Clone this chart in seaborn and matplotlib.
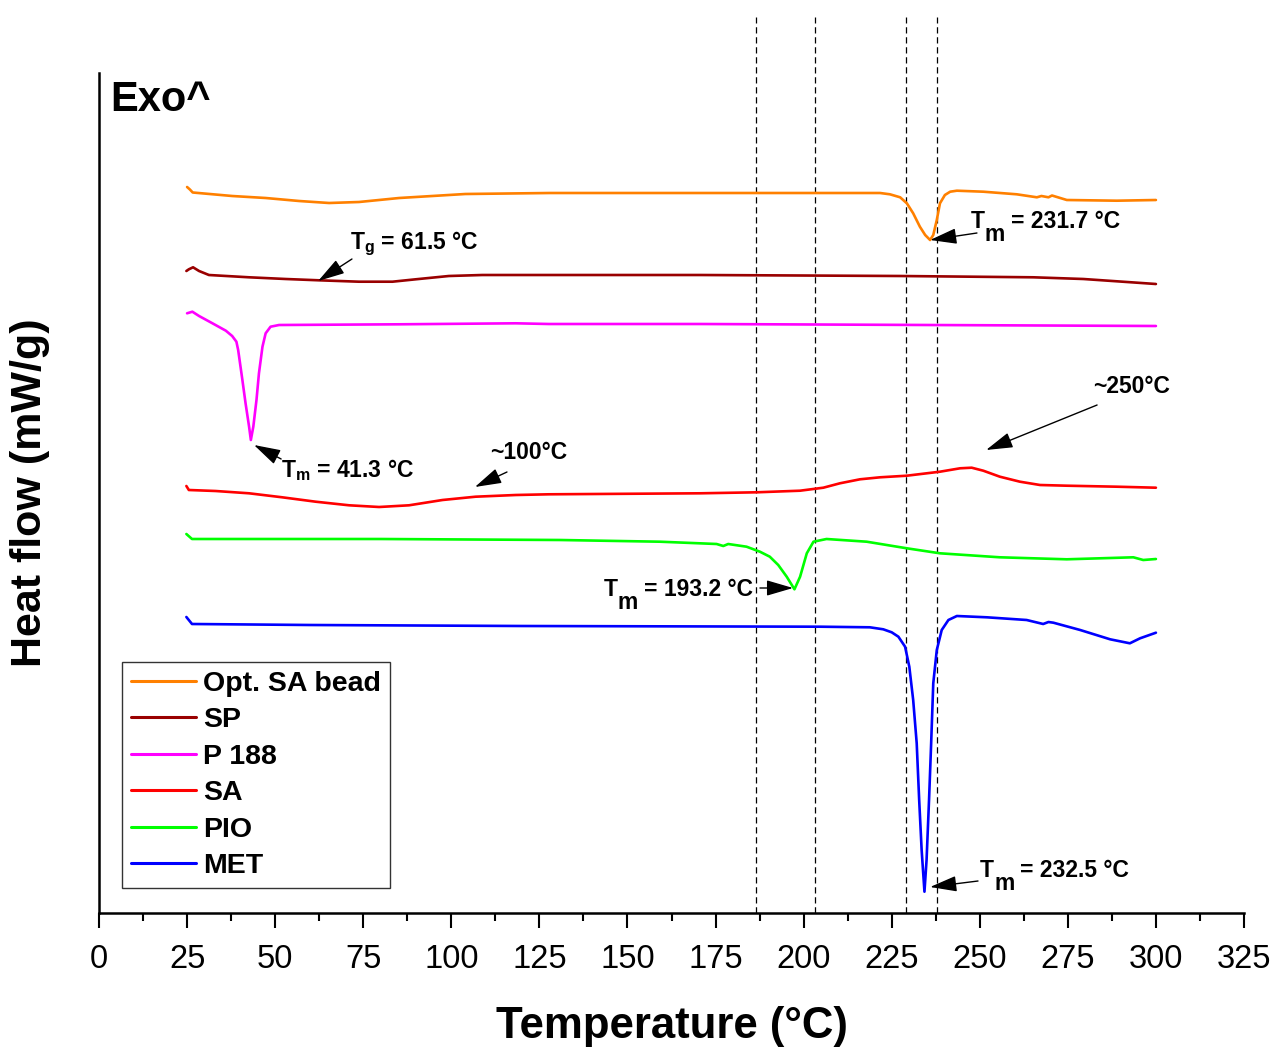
import numpy as np
import pandas as pd
import matplotlib
matplotlib.use('Agg')
import matplotlib.pyplot as plt
from matplotlib.ticker import MultipleLocator
import seaborn as sns

# DSC thermograms (heat flow in arbitrary, stacked units)
opt_T = [25, 25.8, 26.6, 37.8, 47.3, 56.8, 65.3, 73.8, 85.2, 94.6, 104, 128, 170, 221.7, 224.5, 227.4, 229.3,
         231.1, 233, 234.5, 235.9, 236.8, 237.8, 238.7, 240.1, 241.6, 243.5, 251, 260.5, 266.2, 267.5, 269.5,
         270.5, 274.7, 288.9, 300]
opt_hf = [726, 723.5, 720.5, 717, 715, 712, 710, 711, 715, 717, 719, 720, 720, 720, 718.7, 715.7, 709.7,
          699.7, 686.3, 678, 673, 678, 693, 709.7, 718, 721.3, 722.3, 721.3, 718.7, 715.7, 717, 715.7,
          717.5, 713, 712.3, 713]

sp_T = [24.8, 25.5, 26.7, 28.4, 31.2, 42.6, 53, 62.4, 73.8, 83.3, 89.9, 99.3, 108.8, 127.7, 170.6, 227.4,
        265.2, 279.4, 288.9, 300]
sp_hf = [642, 643.7, 645.7, 642, 638, 635.7, 634, 632.7, 631.3, 631.3, 633.7, 637, 638, 638, 638, 637,
         635.7, 634, 631.7, 629]

p188_T = [25, 26.5, 28.4, 32.2, 36, 37.8, 39, 39.5, 39.9, 40.7, 41.6, 42.6, 43.1, 43.8, 44.7, 45.4, 45.9,
          46.4, 47.3, 48.7, 51.1, 85.2, 118.3, 127.7, 170.6, 300]
p188_hf = [599.7, 601.3, 597, 589.7, 582.3, 577, 571.3, 563, 553, 533, 509.7, 486.3, 473, 486.3, 513,
           539.7, 553, 566.3, 579.7, 586.3, 588, 588.7, 589.7, 589, 589, 587]

sa_T = [24.8, 25.5, 33.1, 42.6, 52, 61.5, 71, 79.5, 88, 97.5, 106.9, 118.3, 127.7, 170.6, 186.7, 199, 205.6,
        210.3, 216, 221.7, 229.3, 238.7, 244.4, 247.7, 251, 255.7, 261.4, 267.1, 274.7, 288.9, 300]
sa_hf = [427, 423, 422, 419.7, 415.7, 411.3, 407.7, 406, 407.7, 413, 416.3, 418, 418.7, 419.7, 420.7, 422.3,
         425.3, 429.7, 433.7, 435.7, 437.3, 441.3, 444.7, 445.3, 442.3, 436.3, 431.3, 428, 427.3, 426.3, 425.3]

pio_T = [24.8, 26.4, 80, 130.9, 159.2, 175.3, 177.2, 178.6, 183.8, 187.6, 190.4, 192.8, 195.2, 197.4, 199,
         200.9, 202.8, 206.5, 217.9, 229.3, 238.7, 255.7, 274.7, 293.6, 296.4, 300]
pio_hf = [379, 374, 374, 373, 371.3, 369, 367, 369, 366.3, 361.3, 356.3, 348, 336.3, 323.7, 336.3,
          359.7, 371.3, 374, 371.3, 364.7, 359.7, 355.7, 353.7, 355.7, 353, 354]

met_T = [24.8, 26.4, 60, 120, 180, 204.7, 218.8, 222.6, 225, 226.9, 228.8, 230, 231.1, 232.1, 232.8, 233.5,
         234.3, 234.9, 235.6, 236.2, 236.8, 237.8, 239.2, 241.1, 243.5, 252, 263.3, 268, 269.5, 270.9, 278.5,
         287, 292.6, 295.5, 300]
met_hf = [296, 289, 288, 287, 286.5, 286.3, 285.7, 283.7, 280.7, 276.3, 266.3, 246.3, 213, 169.7, 113, 63,
          21.3, 53, 113, 169.7, 229.7, 263, 283, 293, 297, 295.7, 293, 289, 291, 290.3, 283,
          273.7, 269.7, 274.7, 280.3]

samples = ['Opt. SA bead', 'SP', 'P 188', 'SA', 'PIO', 'MET']
colors = ['#FF8000', '#990000', '#FF00FF', '#FF0000', '#00FF00', '#0000FF']
dashed_T = [186.5, 203.2, 229.1, 237.9]

frames = []
for name, t, hf in zip(samples, [opt_T, sp_T, p188_T, sa_T, pio_T, met_T],
                       [opt_hf, sp_hf, p188_hf, sa_hf, pio_hf, met_hf]):
    frames.append(pd.DataFrame({'T': t, 'HF': hf, 'sample': name}))
df = pd.concat(frames, ignore_index=True)

sns.set_theme(style='ticks')
plt.rcParams['font.family'] = ['Liberation Sans', 'DejaVu Sans']
plt.rcParams['text.color'] = 'black'
plt.rcParams['axes.labelcolor'] = 'black'

fig = plt.figure(figsize=(12.85, 10.48), dpi=100)
ax = fig.add_axes([99 / 1285, 1 - 913 / 1048, 1145 / 1285, 896 / 1048])

sns.lineplot(data=df, x='T', y='HF', hue='sample', hue_order=samples,
             palette=dict(zip(samples, colors)), estimator=None, linewidth=1.9, ax=ax)

for t in dashed_T:
    ax.axvline(t, color='black', lw=0.9, ls=(0, (5, 3)), zorder=1)

ax.set_xlim(0, 325)
ax.set_ylim(0, 896)
ax.xaxis.set_major_locator(MultipleLocator(25))
ax.xaxis.set_minor_locator(MultipleLocator(12.5))
ax.tick_params(axis='x', which='major', direction='out', length=10.5, width=1.5,
               labelsize=23.5, pad=12, color='black', labelcolor='black')
ax.tick_params(axis='x', which='minor', direction='out', length=5.5, width=1.5, color='black')
ax.set_yticks([])
ax.spines['top'].set_visible(False)
ax.spines['right'].set_visible(False)
for s in ['left', 'bottom']:
    ax.spines[s].set_linewidth(1.8)
    ax.spines[s].set_color('black')
ax.spines['left'].set_bounds(0, 840)

ax.set_xlabel('Temperature (°C)', fontsize=31.5, fontweight='bold', labelpad=22)
ax.set_ylabel('Heat flow (mW/g)', fontsize=31, fontweight='bold')
ax.yaxis.set_label_coords(-0.0428, 0.469)

ax.text(3.1, 813, 'Exo^', fontsize=30, fontweight='bold', va='center', ha='left')

arrow = dict(arrowstyle='-|>,head_length=0.75,head_width=0.22', color='black', lw=1,
             shrinkA=0, shrinkB=0, mutation_scale=22)
arrows = [((71.8, 654), (62.2, 632)), ((249.2, 680), (235.9, 673)), ((51.7, 454), (44.0, 468)),
          ((115.8, 441), (106.7, 426)), ((283.3, 508), (251.8, 463)), ((187.6, 325), (197.0, 325)),
          ((249.5, 32), (235.9, 26))]
for tail, tip in arrows:
    ax.annotate('', xy=tip, xytext=tail, arrowprops=arrow)

lab = dict(fontsize=16.5, fontweight='bold', va='baseline', ha='left')
ax.text(71.2, 664, r'T$_\mathregular{g}$ = 61.5 °C', **lab)
ax.text(51.7, 436, r'T$_\mathregular{m}$ = 41.3 °C', **lab)
ax.text(111, 454, '~100°C', **lab)
ax.text(282.2, 520, '~250°C', **lab)


def tm_label(x, y, rest):
    ax.text(x, y, 'T', **lab)
    ax.annotate('m', xy=(x, y), xytext=(10, -9.5), textcoords='offset points', **lab)
    ax.annotate(rest, xy=(x, y), xytext=(29, 0), textcoords='offset points', **lab)


tm_label(247.5, 685, '= 231.7 °C')
tm_label(143.3, 317, '= 193.2 °C')
tm_label(250.1, 36, '= 232.5 °C')

handles, labels = ax.get_legend_handles_labels()
leg = ax.legend(handles, labels, loc='upper left', bbox_to_anchor=(0.0201, 0.280),
                borderaxespad=0, frameon=True, fancybox=False, edgecolor='black',
                prop={'size': 20.5, 'weight': 'bold'}, handlelength=2.3, handletextpad=0.25,
                labelspacing=0.37, borderpad=0.3)
leg.get_frame().set_linewidth(1.0)
for line in leg.get_lines():
    line.set_linewidth(2.2)

fig.savefig('out.png', dpi=100)
